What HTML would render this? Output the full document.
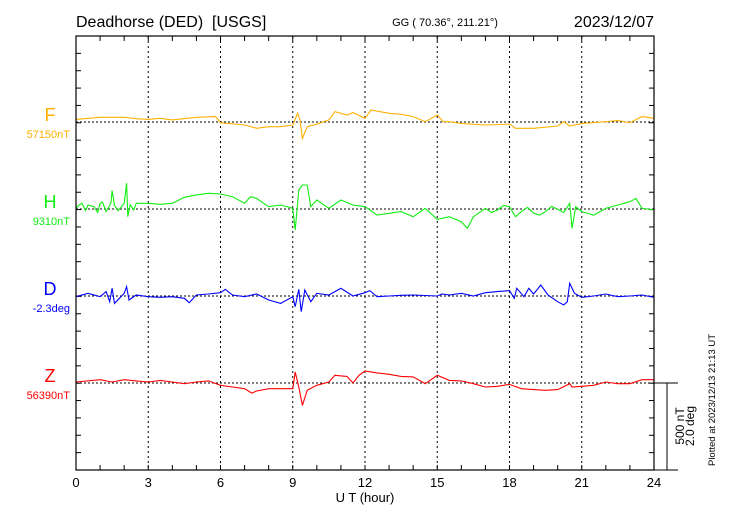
<!DOCTYPE html>
<html><head><meta charset="utf-8"><style>
body{margin:0;background:#fff;}
svg{display:block;font-family:"Liberation Sans",sans-serif;}
</style></head><body>
<svg id="chart" width="730" height="520" viewBox="0 0 730 520">
<text x="76" y="27" font-size="16">Deadhorse (DED)&#160; [USGS]</text>
<text x="445" y="26" font-size="11" text-anchor="middle">GG ( 70.36°, 211.21°)</text>
<text x="654" y="27" font-size="16" text-anchor="end">2023/12/07</text>
<text x="365" y="502" font-size="13" text-anchor="middle">U T (hour)</text>
<text transform="translate(715,400) rotate(-90)" font-size="9.5" text-anchor="middle">Plotted at 2023/12/13 21:13 UT</text>
<text transform="translate(684,426) rotate(-90)" font-size="12" text-anchor="middle">500 nT</text>
<text transform="translate(694,426) rotate(-90)" font-size="12" text-anchor="middle">2.0 deg</text>
<g id="layer"></g>
</svg>
<script>
const hours=[0,3,6,9,12,15,18,21,24];
const fT=[0,1,2,2.5,3,3.5,4,5,5.8,6,7,7.5,8,8.5,9,9.2,9.3,9.4,9.6,10,10.5,10.75,11.25,11.5,12,12.25,13,13.5,14,14.5,15,15.25,15.5,16,17,18,18.25,19,20,20.25,20.5,21,22,22.5,23,23.5,24];
const fV=[15,27,27,19,15,21,12,27,31,-4,-17,-36,-27,-27,-17,50,12,-94,-27,-12,12,60,40,54,21,69,50,44,31,2,40,2,2,-8,-17,-12,-36,-36,-23,2,-23,-8,2,8,-4,31,21];
const hT=[0,0.1,0.25,0.4,0.5,0.75,0.9,1,1.1,1.25,1.45,1.5,1.6,1.75,2,2.1,2.15,2.25,2.4,2.5,3,3.5,4,4.5,5,5.5,6,6.5,7,7.25,7.5,8,8.5,9,9.1,9.25,9.4,9.6,9.75,10,10.5,11,11.5,12,12.5,13,13.5,14,14.5,15,15.5,16,16.25,16.5,17,17.25,17.5,17.75,18,18.25,18.5,18.75,19,19.25,19.5,19.75,20,20.25,20.5,20.6,20.75,21,21.5,22,22.5,23,23.25,23.5,24];
const hV=[0,20,33,-10,23,13,-20,33,40,-15,33,106,20,-10,33,148,-44,25,-5,33,33,27,33,67,81,90,86,71,33,71,61,13,23,4,-121,109,138,138,13,52,4,52,23,13,-35,-25,-15,-44,4,-60,-44,-73,-111,-44,4,-20,-6,20,13,-44,-15,10,-25,-35,-15,15,-2,-20,33,-111,13,-15,-35,4,23,42,61,4,-6];
const dT=[0,0.5,1,1.25,1.4,1.5,1.6,2,2.1,2.2,2.5,3,3.5,4,4.5,4.7,5,5.5,6,6.2,6.5,7,7.5,8,8.5,9,9.1,9.25,9.35,9.5,9.75,10,10.5,11,11.5,12,12.2,12.5,13,13.5,14,15,15.2,15.5,16,16.5,17,17.5,18,18.2,18.3,18.6,18.8,19,19.3,19.6,20,20.25,20.4,20.5,20.7,21,21.5,22,22.5,23,23.5,24];
const dV=[-0.015,0.061,-0.015,0.1,-0.13,0.18,-0.17,0.061,0.215,-0.092,0.023,-0.015,-0.031,-0.015,-0.054,-0.153,0.023,0.046,0.077,0.153,0.023,-0.015,0.046,-0.092,-0.169,-0.015,-0.245,0.153,-0.36,0.138,-0.13,0.061,0.023,0.176,0,0.077,0.123,-0.015,0,0.015,0.023,0,0.046,0.023,0.061,0,0.077,0.1,0.123,-0.054,0.176,-0.015,0.176,0.046,0.253,0.023,-0.13,-0.207,-0.13,0.291,0.061,-0.031,0,0.046,-0.015,0,0.023,-0.031];
const zT=[0,1,1.5,2,2.5,3,3.5,4,4.5,5,5.5,6,6.5,7,7.3,7.5,8,8.5,9,9.1,9.25,9.4,9.6,10,10.5,10.75,11.25,11.5,11.75,12,12.5,13,13.5,14,14.5,15,15.5,16,16.5,17,17.5,18,18.5,19,19.5,20,20.5,20.6,21,21.5,22,22.5,23,23.5,24];
const zV=[6,19,6,19,12,6,15,6,-4,6,12,-13,-23,-33,-58,-46,-33,-33,-33,63,-23,-129,-42,-13,6,44,38,0,44,69,58,50,38,35,-4,44,15,12,-4,-23,-19,-8,-33,-38,-42,-38,-4,-23,-19,-13,6,-4,-4,19,19];

const L=76,R=654,T=36,B=470,NS="http://www.w3.org/2000/svg";
const layer=document.getElementById('layer');
const xs=h=>L+(R-L)*h/24;
const pxPerNT=87/500, pxPerDeg=87/2.0;
function mk(tag,attrs,parent){const e=document.createElementNS(NS,tag);for(const k in attrs)e.setAttribute(k,attrs[k]);(parent||layer).appendChild(e);return e;}
hours.slice(1,-1).forEach(h=>{const g=mk('line',{x1:xs(h),x2:xs(h),y1:T,y2:B,stroke:'#000','stroke-width':1,'stroke-dasharray':'2,3'});

});
const bases=[122,209,296,383];
bases.forEach((b,i)=>{const g=mk('line',{x1:L,x2:R,y1:b,y2:b,stroke:'#000','stroke-width':1,'stroke-dasharray':'2,2'});

});
for(let h=1;h<24;h++){mk('line',{x1:xs(h),x2:xs(h),y1:B,y2:B-5,stroke:'#000'});mk('line',{x1:xs(h),x2:xs(h),y1:T,y2:T+5,stroke:'#000'});}
for(let k=1;k<25;k++){const y=T+k*(B-T)/25;mk('line',{x1:L,x2:L+5,y1:y,y2:y,stroke:'#000'});mk('line',{x1:R,x2:R-5,y1:y,y2:y,stroke:'#000'});}
hours.forEach(h=>{const t=mk('text',{x:xs(h),y:487,'font-size':13,'text-anchor':'middle'});t.textContent=h;

});
const series=[
 {n:'F',t:fT,v:fV,c:'#ffb000',s:pxPerNT,b:122,lab:'57150nT'},
 {n:'H',t:hT,v:hV,c:'#11ee11',s:pxPerNT,b:209,lab:'9310nT'},
 {n:'D',t:dT,v:dV,c:'#0000ff',s:pxPerDeg,b:296,lab:'-2.3deg'},
 {n:'Z',t:zT,v:zV,c:'#ff0000',s:pxPerNT,b:383,lab:'56390nT'}];
series.forEach(S=>{
 const d=S.t.map((t,i)=>(i?'L':'M')+xs(t).toFixed(1)+','+(S.b-S.v[i]*S.s).toFixed(1)).join('');
 const p=mk('path',{d:d,fill:'none',stroke:S.c,'stroke-width':1.1});
 
 
 const a=mk('text',{x:50,y:S.b-1,'font-size':18,fill:S.c,'text-anchor':'middle'});a.textContent=S.n;
 
 
 const b=mk('text',{x:70,y:S.b+16,'font-size':11,fill:S.c,'text-anchor':'end'});b.textContent=S.lab;
 
 
});
const f=mk('rect',{x:L,y:T,width:R-L,height:B-T,fill:'none',stroke:'#000','stroke-width':1.2});


mk('line',{x1:R,x2:678,y1:383,y2:383,stroke:'#000'});
mk('line',{x1:R,x2:678,y1:470,y2:470,stroke:'#000'});
const sb=mk('line',{x1:667,x2:667,y1:383,y2:470,stroke:'#000'});


</script>
</body></html>
